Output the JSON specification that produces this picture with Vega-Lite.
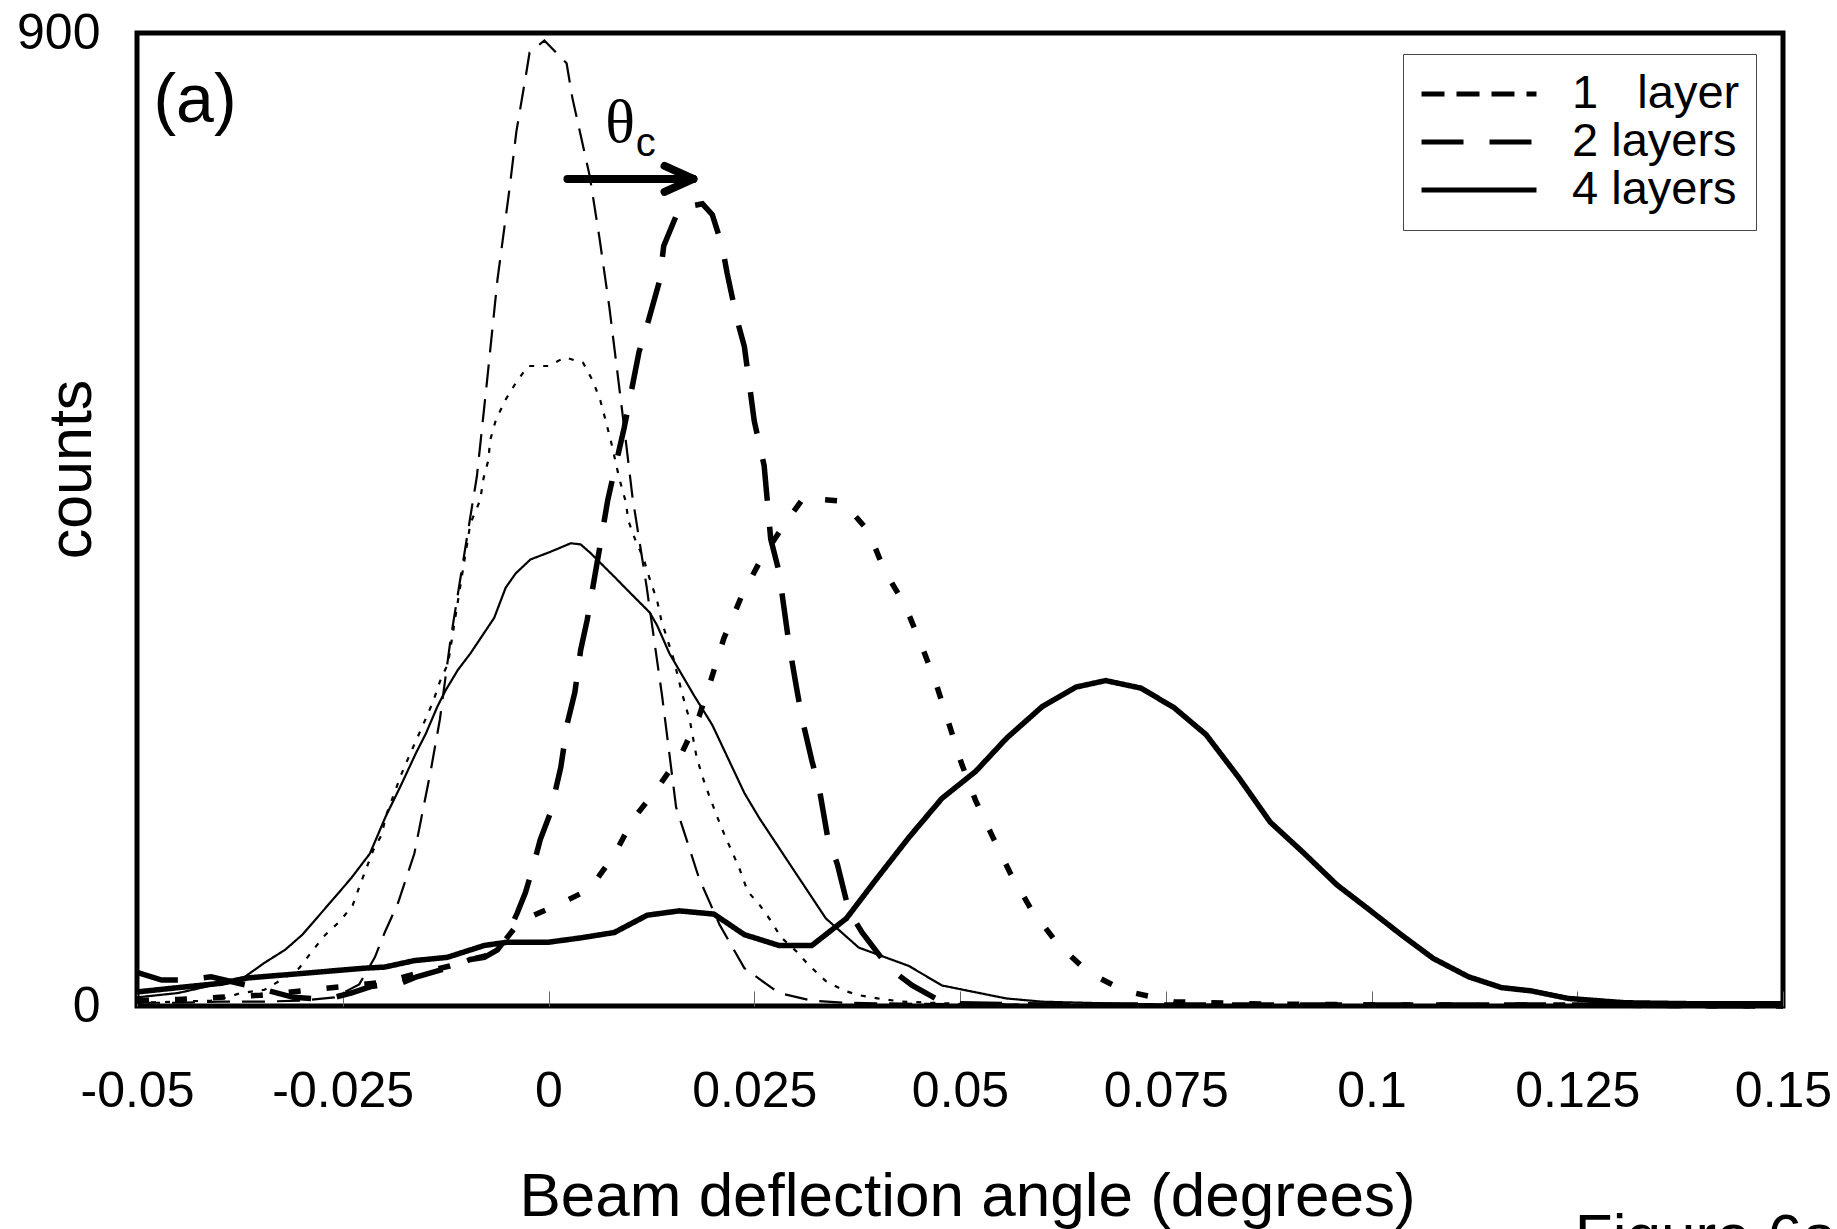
{
  "$schema": "https://vega.github.io/schema/vega-lite/v6.json",
  "width": 1646,
  "height": 973,
  "autosize": {"type": "none"},
  "padding": {"left": 137, "top": 33, "right": 54, "bottom": 223},
  "background": "white",
  "config": {
    "font": "Liberation Sans",
    "view": {"stroke": "black", "strokeWidth": 5},
    "axis": {"domain": false, "grid": false}
  },
  "datasets": {
    "thin": [
      {"series": "1\u00a0\u00a0\u00a0layer", "x": -0.05, "y": 3}, {"series": "1\u00a0\u00a0\u00a0layer", "x": -0.045, "y": 3}, {"series": "1\u00a0\u00a0\u00a0layer", "x": -0.04, "y": 4}, {"series": "1\u00a0\u00a0\u00a0layer", "x": -0.035, "y": 4}, {"series": "1\u00a0\u00a0\u00a0layer", "x": -0.03, "y": 5}, {"series": "1\u00a0\u00a0\u00a0layer", "x": -0.026, "y": 8}, {"series": "1\u00a0\u00a0\u00a0layer", "x": -0.023, "y": 20}, {"series": "1\u00a0\u00a0\u00a0layer", "x": -0.0211, "y": 45}, {"series": "1\u00a0\u00a0\u00a0layer", "x": -0.0199, "y": 68}, {"series": "1\u00a0\u00a0\u00a0layer", "x": -0.0183, "y": 95}, {"series": "1\u00a0\u00a0\u00a0layer", "x": -0.0163, "y": 141}, {"series": "1\u00a0\u00a0\u00a0layer", "x": -0.0143, "y": 218}, {"series": "1\u00a0\u00a0\u00a0layer", "x": -0.0132, "y": 265}, {"series": "1\u00a0\u00a0\u00a0layer", "x": -0.0119, "y": 339}, {"series": "1\u00a0\u00a0\u00a0layer", "x": -0.0104, "y": 410}, {"series": "1\u00a0\u00a0\u00a0layer", "x": -0.0087, "y": 490}, {"series": "1\u00a0\u00a0\u00a0layer", "x": -0.0074, "y": 583}, {"series": "1\u00a0\u00a0\u00a0layer", "x": -0.0062, "y": 672}, {"series": "1\u00a0\u00a0\u00a0layer", "x": -0.0047, "y": 758}, {"series": "1\u00a0\u00a0\u00a0layer", "x": -0.0039, "y": 809}, {"series": "1\u00a0\u00a0\u00a0layer", "x": -0.0027, "y": 863}, {"series": "1\u00a0\u00a0\u00a0layer", "x": -0.0023, "y": 882}, {"series": "1\u00a0\u00a0\u00a0layer", "x": -0.0005, "y": 893}, {"series": "1\u00a0\u00a0\u00a0layer", "x": 0.0022, "y": 872}, {"series": "1\u00a0\u00a0\u00a0layer", "x": 0.0029, "y": 840}, {"series": "1\u00a0\u00a0\u00a0layer", "x": 0.005, "y": 768}, {"series": "1\u00a0\u00a0\u00a0layer", "x": 0.0062, "y": 710}, {"series": "1\u00a0\u00a0\u00a0layer", "x": 0.0074, "y": 646}, {"series": "1\u00a0\u00a0\u00a0layer", "x": 0.0092, "y": 535}, {"series": "1\u00a0\u00a0\u00a0layer", "x": 0.0102, "y": 471}, {"series": "1\u00a0\u00a0\u00a0layer", "x": 0.0119, "y": 389}, {"series": "1\u00a0\u00a0\u00a0layer", "x": 0.0138, "y": 287}, {"series": "1\u00a0\u00a0\u00a0layer", "x": 0.0155, "y": 184}, {"series": "1\u00a0\u00a0\u00a0layer", "x": 0.0183, "y": 118}, {"series": "1\u00a0\u00a0\u00a0layer", "x": 0.0208, "y": 75}, {"series": "1\u00a0\u00a0\u00a0layer", "x": 0.0238, "y": 35}, {"series": "1\u00a0\u00a0\u00a0layer", "x": 0.028, "y": 12}, {"series": "1\u00a0\u00a0\u00a0layer", "x": 0.032, "y": 5}, {"series": "1\u00a0\u00a0\u00a0layer", "x": 0.036, "y": 3}, {"series": "1\u00a0\u00a0\u00a0layer", "x": 0.045, "y": 2}, {"series": "1\u00a0\u00a0\u00a0layer", "x": 0.06, "y": 1}, {"series": "1\u00a0\u00a0\u00a0layer", "x": 0.08, "y": 1}, {"series": "1\u00a0\u00a0\u00a0layer", "x": 0.1, "y": 0}, {"series": "1\u00a0\u00a0\u00a0layer", "x": 0.125, "y": 0}, {"series": "1\u00a0\u00a0\u00a0layer", "x": 0.15, "y": 0},
      {"series": "thin dotted", "x": -0.05, "y": 3}, {"series": "thin dotted", "x": -0.045, "y": 4}, {"series": "thin dotted", "x": -0.041, "y": 5}, {"series": "thin dotted", "x": -0.039, "y": 8}, {"series": "thin dotted", "x": -0.0374, "y": 12}, {"series": "thin dotted", "x": -0.0345, "y": 15}, {"series": "thin dotted", "x": -0.0325, "y": 24}, {"series": "thin dotted", "x": -0.0303, "y": 35}, {"series": "thin dotted", "x": -0.0288, "y": 50}, {"series": "thin dotted", "x": -0.0271, "y": 66}, {"series": "thin dotted", "x": -0.0254, "y": 78}, {"series": "thin dotted", "x": -0.0238, "y": 93}, {"series": "thin dotted", "x": -0.0229, "y": 112}, {"series": "thin dotted", "x": -0.0221, "y": 128}, {"series": "thin dotted", "x": -0.0213, "y": 144}, {"series": "thin dotted", "x": -0.0203, "y": 158}, {"series": "thin dotted", "x": -0.0197, "y": 177}, {"series": "thin dotted", "x": -0.0179, "y": 214}, {"series": "thin dotted", "x": -0.017, "y": 230}, {"series": "thin dotted", "x": -0.0149, "y": 266}, {"series": "thin dotted", "x": -0.014, "y": 282}, {"series": "thin dotted", "x": -0.0132, "y": 300}, {"series": "thin dotted", "x": -0.0122, "y": 317}, {"series": "thin dotted", "x": -0.011, "y": 375}, {"series": "thin dotted", "x": -0.0095, "y": 446}, {"series": "thin dotted", "x": -0.0083, "y": 468}, {"series": "thin dotted", "x": -0.0079, "y": 488}, {"series": "thin dotted", "x": -0.0073, "y": 505}, {"series": "thin dotted", "x": -0.0071, "y": 523}, {"series": "thin dotted", "x": -0.0064, "y": 542}, {"series": "thin dotted", "x": -0.0052, "y": 561}, {"series": "thin dotted", "x": -0.004, "y": 576}, {"series": "thin dotted", "x": -0.0025, "y": 592}, {"series": "thin dotted", "x": 0, "y": 592}, {"series": "thin dotted", "x": 0.002, "y": 600}, {"series": "thin dotted", "x": 0.0042, "y": 595}, {"series": "thin dotted", "x": 0.0054, "y": 578}, {"series": "thin dotted", "x": 0.0063, "y": 560}, {"series": "thin dotted", "x": 0.007, "y": 540}, {"series": "thin dotted", "x": 0.0076, "y": 522}, {"series": "thin dotted", "x": 0.0086, "y": 488}, {"series": "thin dotted", "x": 0.0094, "y": 466}, {"series": "thin dotted", "x": 0.0097, "y": 449}, {"series": "thin dotted", "x": 0.0106, "y": 430}, {"series": "thin dotted", "x": 0.0115, "y": 415}, {"series": "thin dotted", "x": 0.0123, "y": 395}, {"series": "thin dotted", "x": 0.0132, "y": 375}, {"series": "thin dotted", "x": 0.0137, "y": 357}, {"series": "thin dotted", "x": 0.0152, "y": 321}, {"series": "thin dotted", "x": 0.0162, "y": 290}, {"series": "thin dotted", "x": 0.0172, "y": 263}, {"series": "thin dotted", "x": 0.018, "y": 230}, {"series": "thin dotted", "x": 0.0188, "y": 210}, {"series": "thin dotted", "x": 0.0195, "y": 195}, {"series": "thin dotted", "x": 0.0205, "y": 175}, {"series": "thin dotted", "x": 0.0214, "y": 158}, {"series": "thin dotted", "x": 0.0224, "y": 141}, {"series": "thin dotted", "x": 0.0232, "y": 127}, {"series": "thin dotted", "x": 0.0242, "y": 106}, {"series": "thin dotted", "x": 0.0256, "y": 94}, {"series": "thin dotted", "x": 0.0271, "y": 78}, {"series": "thin dotted", "x": 0.0282, "y": 64}, {"series": "thin dotted", "x": 0.0302, "y": 50}, {"series": "thin dotted", "x": 0.0316, "y": 38}, {"series": "thin dotted", "x": 0.0337, "y": 23}, {"series": "thin dotted", "x": 0.036, "y": 14}, {"series": "thin dotted", "x": 0.0377, "y": 10}, {"series": "thin dotted", "x": 0.04, "y": 7}, {"series": "thin dotted", "x": 0.043, "y": 4}, {"series": "thin dotted", "x": 0.05, "y": 2}, {"series": "thin dotted", "x": 0.06, "y": 1}, {"series": "thin dotted", "x": 0.08, "y": 0}, {"series": "thin dotted", "x": 0.1, "y": 0}, {"series": "thin dotted", "x": 0.15, "y": 0},
      {"series": "thin solid", "x": -0.05, "y": 8}, {"series": "thin solid", "x": -0.045, "y": 12}, {"series": "thin solid", "x": -0.0398, "y": 21}, {"series": "thin solid", "x": -0.0369, "y": 27}, {"series": "thin solid", "x": -0.0345, "y": 40}, {"series": "thin solid", "x": -0.032, "y": 52}, {"series": "thin solid", "x": -0.0299, "y": 66}, {"series": "thin solid", "x": -0.0266, "y": 95}, {"series": "thin solid", "x": -0.024, "y": 118}, {"series": "thin solid", "x": -0.0217, "y": 141}, {"series": "thin solid", "x": -0.0198, "y": 175}, {"series": "thin solid", "x": -0.018, "y": 203}, {"series": "thin solid", "x": -0.0161, "y": 234}, {"series": "thin solid", "x": -0.0149, "y": 252}, {"series": "thin solid", "x": -0.0135, "y": 277}, {"series": "thin solid", "x": -0.0125, "y": 292}, {"series": "thin solid", "x": -0.011, "y": 311}, {"series": "thin solid", "x": -0.0095, "y": 326}, {"series": "thin solid", "x": -0.0066, "y": 359}, {"series": "thin solid", "x": -0.0052, "y": 387}, {"series": "thin solid", "x": -0.004, "y": 400}, {"series": "thin solid", "x": -0.0022, "y": 413}, {"series": "thin solid", "x": 0.0002, "y": 420}, {"series": "thin solid", "x": 0.0027, "y": 428}, {"series": "thin solid", "x": 0.0039, "y": 427}, {"series": "thin solid", "x": 0.0051, "y": 419}, {"series": "thin solid", "x": 0.008, "y": 397}, {"series": "thin solid", "x": 0.0102, "y": 380}, {"series": "thin solid", "x": 0.0123, "y": 364}, {"series": "thin solid", "x": 0.0132, "y": 352}, {"series": "thin solid", "x": 0.0147, "y": 326}, {"series": "thin solid", "x": 0.0177, "y": 287}, {"series": "thin solid", "x": 0.0199, "y": 260}, {"series": "thin solid", "x": 0.0238, "y": 197}, {"series": "thin solid", "x": 0.0256, "y": 174}, {"series": "thin solid", "x": 0.0296, "y": 128}, {"series": "thin solid", "x": 0.0337, "y": 81}, {"series": "thin solid", "x": 0.0377, "y": 54}, {"series": "thin solid", "x": 0.0438, "y": 37}, {"series": "thin solid", "x": 0.0478, "y": 19}, {"series": "thin solid", "x": 0.0556, "y": 7}, {"series": "thin solid", "x": 0.06, "y": 4}, {"series": "thin solid", "x": 0.07, "y": 2}, {"series": "thin solid", "x": 0.08, "y": 1}, {"series": "thin solid", "x": 0.1, "y": 0}, {"series": "thin solid", "x": 0.15, "y": 0}
    ],
    "thick": [
      {"series": "2 layers", "x": -0.05, "y": 31}, {"series": "2 layers", "x": -0.047, "y": 24}, {"series": "2 layers", "x": -0.044, "y": 24}, {"series": "2 layers", "x": -0.041, "y": 27}, {"series": "2 layers", "x": -0.036, "y": 18}, {"series": "2 layers", "x": -0.031, "y": 8}, {"series": "2 layers", "x": -0.027, "y": 6}, {"series": "2 layers", "x": -0.024, "y": 12}, {"series": "2 layers", "x": -0.0216, "y": 18}, {"series": "2 layers", "x": -0.018, "y": 21}, {"series": "2 layers", "x": -0.016, "y": 27}, {"series": "2 layers", "x": -0.0119, "y": 36}, {"series": "2 layers", "x": -0.0095, "y": 43}, {"series": "2 layers", "x": -0.0078, "y": 45}, {"series": "2 layers", "x": -0.0062, "y": 52}, {"series": "2 layers", "x": -0.0053, "y": 61}, {"series": "2 layers", "x": -0.0038, "y": 86}, {"series": "2 layers", "x": -0.0028, "y": 105}, {"series": "2 layers", "x": -0.0019, "y": 128}, {"series": "2 layers", "x": -0.001, "y": 154}, {"series": "2 layers", "x": 0.0002, "y": 178}, {"series": "2 layers", "x": 0.0015, "y": 221}, {"series": "2 layers", "x": 0.0023, "y": 262}, {"series": "2 layers", "x": 0.0032, "y": 290}, {"series": "2 layers", "x": 0.0039, "y": 329}, {"series": "2 layers", "x": 0.0047, "y": 357}, {"series": "2 layers", "x": 0.0062, "y": 423}, {"series": "2 layers", "x": 0.0072, "y": 468}, {"series": "2 layers", "x": 0.008, "y": 495}, {"series": "2 layers", "x": 0.0092, "y": 535}, {"series": "2 layers", "x": 0.011, "y": 605}, {"series": "2 layers", "x": 0.012, "y": 630}, {"series": "2 layers", "x": 0.0135, "y": 671}, {"series": "2 layers", "x": 0.014, "y": 703}, {"series": "2 layers", "x": 0.0159, "y": 738}, {"series": "2 layers", "x": 0.0187, "y": 742}, {"series": "2 layers", "x": 0.0199, "y": 732}, {"series": "2 layers", "x": 0.0211, "y": 703}, {"series": "2 layers", "x": 0.0217, "y": 678}, {"series": "2 layers", "x": 0.0229, "y": 635}, {"series": "2 layers", "x": 0.0238, "y": 610}, {"series": "2 layers", "x": 0.025, "y": 541}, {"series": "2 layers", "x": 0.0262, "y": 500}, {"series": "2 layers", "x": 0.027, "y": 432}, {"series": "2 layers", "x": 0.028, "y": 402}, {"series": "2 layers", "x": 0.0292, "y": 336}, {"series": "2 layers", "x": 0.0301, "y": 296}, {"series": "2 layers", "x": 0.0308, "y": 266}, {"series": "2 layers", "x": 0.032, "y": 227}, {"series": "2 layers", "x": 0.0329, "y": 201}, {"series": "2 layers", "x": 0.0339, "y": 157}, {"series": "2 layers", "x": 0.0351, "y": 131}, {"series": "2 layers", "x": 0.0365, "y": 88}, {"series": "2 layers", "x": 0.0381, "y": 68}, {"series": "2 layers", "x": 0.0414, "y": 35}, {"series": "2 layers", "x": 0.0442, "y": 19}, {"series": "2 layers", "x": 0.0475, "y": 5}, {"series": "2 layers", "x": 0.05, "y": 2}, {"series": "2 layers", "x": 0.06, "y": 1}, {"series": "2 layers", "x": 0.08, "y": 1}, {"series": "2 layers", "x": 0.1, "y": 1}, {"series": "2 layers", "x": 0.12, "y": 1}, {"series": "2 layers", "x": 0.15, "y": 0},
      {"series": "4 layers", "x": -0.05, "y": 13}, {"series": "4 layers", "x": -0.045, "y": 17}, {"series": "4 layers", "x": -0.0398, "y": 21}, {"series": "4 layers", "x": -0.0365, "y": 26}, {"series": "4 layers", "x": -0.0317, "y": 29}, {"series": "4 layers", "x": -0.0223, "y": 35}, {"series": "4 layers", "x": -0.0199, "y": 36}, {"series": "4 layers", "x": -0.0163, "y": 42}, {"series": "4 layers", "x": -0.0123, "y": 45}, {"series": "4 layers", "x": -0.0078, "y": 56}, {"series": "4 layers", "x": -0.005, "y": 59}, {"series": "4 layers", "x": 0, "y": 59}, {"series": "4 layers", "x": 0.0039, "y": 63}, {"series": "4 layers", "x": 0.008, "y": 68}, {"series": "4 layers", "x": 0.012, "y": 84}, {"series": "4 layers", "x": 0.0159, "y": 88}, {"series": "4 layers", "x": 0.0201, "y": 85}, {"series": "4 layers", "x": 0.0238, "y": 66}, {"series": "4 layers", "x": 0.028, "y": 56}, {"series": "4 layers", "x": 0.032, "y": 56}, {"series": "4 layers", "x": 0.0362, "y": 81}, {"series": "4 layers", "x": 0.0398, "y": 117}, {"series": "4 layers", "x": 0.0438, "y": 156}, {"series": "4 layers", "x": 0.0478, "y": 192}, {"series": "4 layers", "x": 0.0519, "y": 217}, {"series": "4 layers", "x": 0.0557, "y": 248}, {"series": "4 layers", "x": 0.06, "y": 277}, {"series": "4 layers", "x": 0.0641, "y": 295}, {"series": "4 layers", "x": 0.0677, "y": 301}, {"series": "4 layers", "x": 0.072, "y": 294}, {"series": "4 layers", "x": 0.076, "y": 276}, {"series": "4 layers", "x": 0.0799, "y": 251}, {"series": "4 layers", "x": 0.0839, "y": 211}, {"series": "4 layers", "x": 0.0877, "y": 170}, {"series": "4 layers", "x": 0.0917, "y": 142}, {"series": "4 layers", "x": 0.0958, "y": 112}, {"series": "4 layers", "x": 0.0994, "y": 91}, {"series": "4 layers", "x": 0.1036, "y": 66}, {"series": "4 layers", "x": 0.1075, "y": 44}, {"series": "4 layers", "x": 0.1118, "y": 27}, {"series": "4 layers", "x": 0.1158, "y": 17}, {"series": "4 layers", "x": 0.1194, "y": 14}, {"series": "4 layers", "x": 0.1239, "y": 7}, {"series": "4 layers", "x": 0.1308, "y": 3}, {"series": "4 layers", "x": 0.14, "y": 2}, {"series": "4 layers", "x": 0.15, "y": 2},
      {"series": "thick dotted", "x": -0.05, "y": 5}, {"series": "thick dotted", "x": -0.045, "y": 6}, {"series": "thick dotted", "x": -0.04, "y": 8}, {"series": "thick dotted", "x": -0.035, "y": 10}, {"series": "thick dotted", "x": -0.03, "y": 14}, {"series": "thick dotted", "x": -0.025, "y": 18}, {"series": "thick dotted", "x": -0.02, "y": 22}, {"series": "thick dotted", "x": -0.016, "y": 30}, {"series": "thick dotted", "x": -0.012, "y": 37}, {"series": "thick dotted", "x": -0.0095, "y": 43}, {"series": "thick dotted", "x": -0.0078, "y": 46}, {"series": "thick dotted", "x": -0.0062, "y": 52}, {"series": "thick dotted", "x": -0.0035, "y": 78}, {"series": "thick dotted", "x": 0, "y": 90}, {"series": "thick dotted", "x": 0.0015, "y": 95}, {"series": "thick dotted", "x": 0.005, "y": 108}, {"series": "thick dotted", "x": 0.008, "y": 140}, {"series": "thick dotted", "x": 0.0103, "y": 173}, {"series": "thick dotted", "x": 0.0132, "y": 201}, {"series": "thick dotted", "x": 0.0162, "y": 234}, {"series": "thick dotted", "x": 0.0183, "y": 268}, {"series": "thick dotted", "x": 0.0198, "y": 303}, {"series": "thick dotted", "x": 0.0213, "y": 340}, {"series": "thick dotted", "x": 0.0234, "y": 378}, {"series": "thick dotted", "x": 0.0256, "y": 410}, {"series": "thick dotted", "x": 0.0286, "y": 445}, {"series": "thick dotted", "x": 0.031, "y": 470}, {"series": "thick dotted", "x": 0.0357, "y": 467}, {"series": "thick dotted", "x": 0.0389, "y": 439}, {"series": "thick dotted", "x": 0.0408, "y": 403}, {"series": "thick dotted", "x": 0.0433, "y": 371}, {"series": "thick dotted", "x": 0.0453, "y": 334}, {"series": "thick dotted", "x": 0.0471, "y": 298}, {"series": "thick dotted", "x": 0.0487, "y": 260}, {"series": "thick dotted", "x": 0.0502, "y": 224}, {"series": "thick dotted", "x": 0.0519, "y": 190}, {"series": "thick dotted", "x": 0.054, "y": 156}, {"series": "thick dotted", "x": 0.0561, "y": 123}, {"series": "thick dotted", "x": 0.0586, "y": 90}, {"series": "thick dotted", "x": 0.0618, "y": 58}, {"series": "thick dotted", "x": 0.0656, "y": 31}, {"series": "thick dotted", "x": 0.07, "y": 14}, {"series": "thick dotted", "x": 0.076, "y": 4}, {"series": "thick dotted", "x": 0.085, "y": 2}, {"series": "thick dotted", "x": 0.1, "y": 1}, {"series": "thick dotted", "x": 0.12, "y": 1}, {"series": "thick dotted", "x": 0.15, "y": 0}
    ],
    "arrow": [
      {"x": 0.0023, "x2": 0.0176, "y": 765, "y2": 765},
      {"x": 0.0141, "x2": 0.0176, "y": 777, "y2": 765},
      {"x": 0.0141, "x2": 0.0176, "y": 753, "y2": 765}
    ]
  },
  "encoding": {
    "x": {
      "field": "x", "type": "quantitative",
      "scale": {"domain": [-0.05, 0.15], "nice": false, "zero": false},
      "axis": {
        "values": [-0.05, -0.025, 0, 0.025, 0.05, 0.075, 0.1, 0.125, 0.15],
        "labelExpr": "'' + datum.value",
        "labelFontSize": 50, "labelColor": "black", "labelFlush": false, "labelOverlap": false,
        "ticks": true, "tickSize": -15, "tickColor": "#666", "tickWidth": 1,
        "labelPadding": 75,
        "title": "Beam deflection angle (degrees)",
        "titleFontSize": 62, "titleFontWeight": "normal", "titleColor": "black",
        "titleX": 830, "titleY": 209, "titleBaseline": "alphabetic", "titleAlign": "center"
      }
    },
    "y": {
      "field": "y", "type": "quantitative",
      "scale": {"domain": [0, 900], "nice": false},
      "axis": {
        "values": [0, 900], "ticks": false, "labelPadding": 37,
        "labelFontSize": 50, "labelColor": "black",
        "title": "counts", "titleFontSize": 61, "titleFontWeight": "normal", "titleColor": "black",
        "titleAngle": -90, "titleX": -47, "titleY": 436, "titleBaseline": "alphabetic", "titleAlign": "center"
      }
    }
  },
  "layer": [
    {
      "data": {"name": "thin"},
      "mark": {"type": "line", "strokeWidth": 2.2, "color": "black", "strokeCap": "butt"},
      "encoding": {
        "strokeDash": {
          "field": "series", "type": "nominal",
          "scale": {
            "domain": ["1\u00a0\u00a0\u00a0layer", "2 layers", "4 layers", "thin dotted", "thin solid", "thick dotted"],
            "range": [[23, 12], [42, 26], [1, 0], [5, 9], [1, 0], [12, 26]]
          },
          "legend": {
            "orient": "none", "legendX": 1266, "legendY": 21,
            "values": ["1\u00a0\u00a0\u00a0layer", "2 layers", "4 layers"],
            "title": null,
            "symbolType": "stroke", "symbolSize": 13225, "symbolStrokeWidth": 5, "symbolStrokeColor": "black",
            "labelFontSize": 47, "labelFont": "Liberation Sans", "labelColor": "black", "labelLimit": 500,
            "labelExpr": "datum.label + '\u00a0'",
            "labelOffset": 33, "clipHeight": 48, "rowPadding": 0, "padding": 16,
            "strokeColor": "#444", "fillColor": "white",
            "encode": {"symbols": {"update": {"strokeWidth": {"value": 5}, "stroke": {"value": "black"}, "opacity": {"value": 1}}}}
          }
        }
      }
    },
    {
      "data": {"name": "thick"},
      "mark": {"type": "line", "strokeWidth": 5.5, "color": "black", "strokeCap": "butt"},
      "encoding": {
        "strokeDash": {"field": "series", "type": "nominal"}
      }
    },
    {
      "data": {"name": "arrow"},
      "mark": {"type": "rule", "strokeWidth": 8, "strokeCap": "round", "color": "black"},
      "encoding": {
        "x2": {"field": "x2"},
        "y2": {"field": "y2"}
      }
    },
    {
      "data": {"values": [{"label": "(a)", "x": -0.048, "y": 818}]},
      "mark": {"type": "text", "fontSize": 68, "align": "left", "baseline": "alphabetic", "font": "Liberation Sans", "color": "black"},
      "encoding": {"text": {"field": "label"}}
    },
    {
      "data": {"values": [{"label": "θ", "x": 0.0069, "y": 799}]},
      "mark": {"type": "text", "fontSize": 62, "align": "left", "baseline": "alphabetic", "font": "Liberation Serif", "color": "black"},
      "encoding": {"text": {"field": "label"}}
    },
    {
      "data": {"values": [{"label": "c", "x": 0.0106, "y": 786}]},
      "mark": {"type": "text", "fontSize": 40, "align": "left", "baseline": "alphabetic", "font": "Liberation Sans", "color": "black"},
      "encoding": {"text": {"field": "label"}}
    },
    {
      "data": {"values": [{"label": "Figure 6a", "x": 0.1247, "y": -232}]},
      "mark": {"type": "text", "fontSize": 62, "align": "left", "baseline": "alphabetic", "font": "Liberation Sans", "color": "black"},
      "encoding": {"text": {"field": "label"}}
    }
  ]
}
